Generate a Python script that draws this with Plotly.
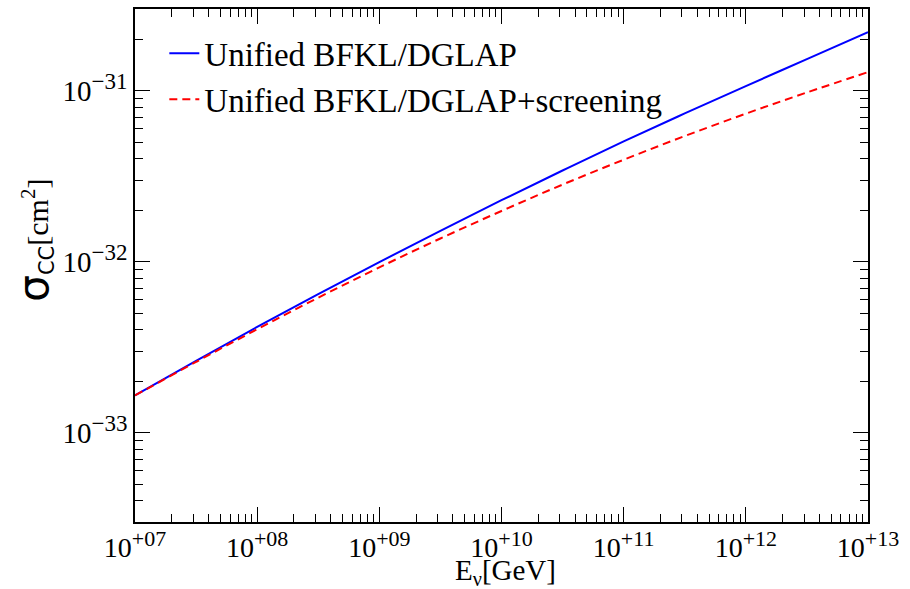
import plotly.graph_objects as go

# Data
energy_gev = [1.0e7, 3.16e7, 1.0e8, 3.16e8, 1.0e9, 3.16e9, 1.0e10,
              3.16e10, 1.0e11, 3.16e11, 1.0e12, 3.16e12, 1.0e13]
sigma_unified = [1.648e-33, 2.63e-33, 4.15e-33, 6.46e-33, 9.93e-33, 1.514e-32, 2.286e-32,
                 3.41e-32, 5.04e-32, 7.35e-32, 1.062e-31, 1.528e-31, 2.198e-31]
sigma_screening = [1.648e-33, 2.59e-33, 4.02e-33, 6.15e-33, 9.25e-33, 1.365e-32, 1.977e-32,
                   2.82e-32, 3.94e-32, 5.42e-32, 7.33e-32, 9.75e-32, 1.282e-31]

x_decades = [7, 8, 9, 10, 11, 12, 13]
x_ticktext = ['10<sup><span style="font-size:22px">+%02d</span></sup>' % d for d in x_decades]
y_decades = [-33, -32, -31]
y_ticktext = ['10<sup><span style="font-size:23px">\u2212%d</span></sup>' % (-d) for d in y_decades]

FONT = "Liberation Serif"

fig = go.Figure()
fig.add_trace(go.Scatter(x=energy_gev, y=sigma_unified, mode="lines",
                         name="Unified BFKL/DGLAP",
                         line=dict(color="#0000ff", width=2, shape="spline")))
fig.add_trace(go.Scatter(x=energy_gev, y=sigma_screening, mode="lines",
                         name="Unified BFKL/DGLAP+screening",
                         line=dict(color="#ff0000", width=2, dash="8px,5px", shape="spline")))

x_minor = [m * 10 ** d for d in range(7, 13) for m in range(2, 10)]
y_minor = [m * 10 ** d for d in range(-34, -30) for m in range(2, 10)
           if 3e-34 <= m * 10 ** d <= 3e-31]

axis_common = dict(showline=True, linecolor="black", linewidth=1.5, mirror="allticks",
                   showgrid=False, zeroline=False, ticks="inside", tickcolor="black",
                   tickwidth=1.2)

fig.update_xaxes(type="log", range=[7, 13], tickmode="array",
                 tickvals=[10 ** d for d in x_decades], ticktext=x_ticktext, ticklen=15,
                 tickfont=dict(family=FONT, size=28, color="black"),
                 minor=dict(tickmode="array", tickvals=x_minor, ticks="inside", ticklen=8,
                            tickcolor="black", tickwidth=1.2, showgrid=False),
                 **axis_common)
fig.update_yaxes(type="log", range=[-33.5229, -30.5229], tickmode="array",
                 tickvals=[10 ** d for d in y_decades], ticktext=y_ticktext, ticklen=15,
                 tickfont=dict(family=FONT, size=29, color="black"),
                 minor=dict(tickmode="array", tickvals=y_minor, ticks="inside", ticklen=8,
                            tickcolor="black", tickwidth=1.2, showgrid=False),
                 **axis_common)

# axis titles
fig.add_annotation(xref="paper", yref="paper", x=-0.138, y=0.55, xanchor="center", yanchor="middle",
                   textangle=-90, showarrow=False,
                   text='<span style="font-family:DejaVu Sans;font-size:42px">\u03c3</span>'
                        '<sub><span style="font-family:DejaVu Sans">CC</span></sub>[cm<sup>2</sup>]',
                   font=dict(family=FONT, size=30, color="black"))
fig.add_annotation(xref="paper", yref="paper", x=0.505, y=-0.097, xanchor="center", yanchor="middle",
                   showarrow=False, text="E<sub>\u03bd</sub>[GeV]",
                   font=dict(family=FONT, size=29, color="black"))

fig.update_layout(width=910, height=589, margin=dict(l=135, r=42, t=7, b=67),
                  paper_bgcolor="white", plot_bgcolor="white",
                  font=dict(family=FONT, color="black"),
                  legend=dict(x=0.04, y=0.968, xanchor="left", yanchor="top",
                              bgcolor="rgba(0,0,0,0)", borderwidth=0,
                              font=dict(family=FONT, size=33, color="black")),
                  showlegend=True)

fig.write_html("out.html", config={"displayModeBar": False},
               post_script="document.body.style.margin='0';")
